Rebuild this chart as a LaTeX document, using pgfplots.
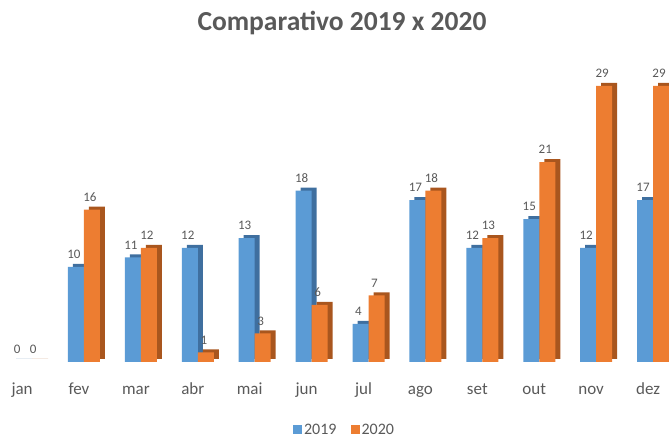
\documentclass[border=0pt]{standalone}
\usepackage{fontspec}
\setmainfont{Carlito}
\usepackage{pgfplots}
\pgfplotsset{compat=1.18}
\usepackage{pgfplotstable}
\definecolor{b19}{HTML}{5B9BD5}
\definecolor{b19d}{HTML}{3F6F9F}
\definecolor{o20}{HTML}{ED7D31}
\definecolor{o20d}{HTML}{A9561E}
\definecolor{txt}{HTML}{595959}
\pgfplotstableread{
x y2019 y2020
0 0 0
1 10 16
2 11 12
3 12 1
4 13 3
5 18 6
6 4 7
7 17 18
8 12 13
9 15 21
10 12 29
11 17 29
}\data
\begin{document}
\begin{tikzpicture}
\path[use as bounding box] (0,0) rectangle (669bp,437bp);
\node[text=txt, font=\fontsize{27.5bp}{30bp}\selectfont\bfseries] at (342bp,414bp) {Comparativo 2019 x 2020};
\begin{axis}[
  at={(0,75bp)}, anchor=south west,
  scale only axis, width=669bp, height=285.6bp,
  xmin=-0.476, xmax=11.28, ymin=0, ymax=30,
  axis line style={draw=none},
  major tick length=0pt,
  ytick=\empty,
  xtick=data,
  xticklabels={jan,fev,mar,abr,mai,jun,jul,ago,set,out,nov,dez},
  xticklabel style={text=txt, font=\fontsize{17bp}{17bp}\selectfont, text height=1.6ex, text depth=0.3ex, yshift=-21bp, xshift=-5bp},
  clip=true,
  /pgf/number format/assume math mode=true,
  nodes near coords style={text=txt, font=\fontsize{13bp}{13bp}\selectfont, anchor=south, yshift=5bp, inner sep=1bp},
  legend style={at={(0.515,-0.238)}, anchor=center, draw=none, legend columns=2, font=\fontsize{16bp}{16bp}\selectfont, text=txt,
    /tikz/every even column/.append style={column sep=12bp}},
  legend image code/.code={\fill[#1] (0bp,-4.5bp) rectangle (9bp,4.5bp);},
]
\addplot[ybar, bar width=16bp, bar shift=-3bp, fill=b19d, draw=none, yshift=3bp, forget plot] table[x=x, y=y2019] {\data};
\addplot[ybar, bar width=16bp, bar shift=-8bp, fill=b19, draw=none, nodes near coords,
  every node near coord/.append style={xshift=-10bp, yshift=2bp}] table[x=x, y=y2019] {\data};
\addlegendentry{2019}
\addplot[ybar, bar width=16bp, bar shift=13bp, fill=o20d, draw=none, yshift=3bp, forget plot] table[x=x, y=y2020] {\data};
\addplot[ybar, bar width=16bp, bar shift=8bp, fill=o20, draw=none, nodes near coords,
  every node near coord/.append style={xshift=6bp, yshift=2bp}] table[x=x, y=y2020] {\data};
\addlegendentry{2020}
\end{axis}
\end{tikzpicture}
\end{document}
